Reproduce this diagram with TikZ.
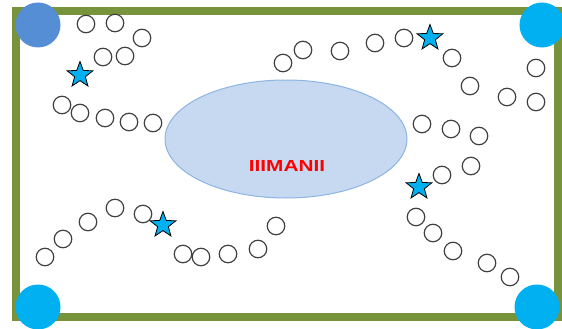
\documentclass[tikz,border=0pt]{standalone}
\usepackage{fontspec}
\setmainfont{Liberation Sans}
\usetikzlibrary{shapes.geometric}
\definecolor{frame}{HTML}{77933C}
\definecolor{cornerA}{HTML}{558ED5}
\definecolor{cornerB}{HTML}{00B0F0}
\definecolor{ellfill}{HTML}{C6D9F1}
\definecolor{elledge}{HTML}{8DB4E2}
\definecolor{ring}{HTML}{404040}
\tikzset{
  ringnode/.style={circle,draw=ring,line width=1.2pt,minimum size=17.5pt,inner sep=0pt,fill=white},
  starnode/.style={star,star points=5,star point ratio=2.4,draw=black,line width=0.8pt,fill=cornerB,minimum size=27pt,inner sep=0pt},
  cornernode/.style={circle,minimum size=45pt,inner sep=0pt},
  lbl/.style={text=red,font=\bfseries\fontsize{16}{16}\selectfont}
}
\begin{document}
\begin{tikzpicture}[x=1pt,y=-1pt]
\useasboundingbox (0,0) rectangle (562,329);
\draw[frame,line width=8pt] (16,11) rectangle (558,317);
\node[cornernode,fill=cornerA] (c1) at (38,25) {};
\node[cornernode,fill=cornerB] (c2) at (542,25) {};
\node[cornernode,fill=cornerB] (c3) at (38,307) {};
\node[cornernode,fill=cornerB] (c4) at (537,307) {};
\node[ellipse,fill=ellfill,draw=elledge,line width=1pt,minimum width=242pt,minimum height=118pt] (ell) at (286,139) {};
\node[lbl,xscale=1.3] (t) at (287,166) {IIIMANII};
% top-left group
\node[ringnode] (a1) at (86,24) {};
\node[ringnode] (a2) at (115,23) {};
\node[ringnode] (a3) at (142,38) {};
\node[ringnode] (a4) at (103,57) {};
\node[ringnode] (a5) at (125,56) {};
\node[starnode] (s1) at (80,75) {};
\node[ringnode] (a6) at (62,105) {};
\node[ringnode] (a7) at (80,113) {};
\node[ringnode] (a8) at (105,118) {};
\node[ringnode] (a9) at (129,122) {};
\node[ringnode] (a10) at (153,123) {};
% top-right group
\node[ringnode] (b1) at (283,63) {};
\node[ringnode] (b2) at (303,50) {};
\node[ringnode] (b3) at (340,51) {};
\node[ringnode] (b4) at (375,43) {};
\node[ringnode] (b5) at (404,38) {};
\node[starnode] (s2) at (430,38) {};
\node[ringnode] (b6) at (452,58) {};
\node[ringnode] (b7) at (470,86) {};
\node[ringnode] (b8) at (507,97) {};
\node[ringnode] (b9) at (536,68) {};
\node[ringnode] (b10) at (536,102) {};
% right middle group
\node[ringnode] (d1) at (422,124) {};
\node[ringnode] (d2) at (451,129) {};
\node[ringnode] (d3) at (479,136) {};
\node[ringnode] (d4) at (471,166) {};
\node[ringnode] (d5) at (442,175) {};
\node[starnode] (s3) at (419,187) {};
\node[ringnode] (d6) at (416,217) {};
\node[ringnode] (d7) at (433,233) {};
\node[ringnode] (d8) at (453,251) {};
\node[ringnode] (d9) at (487,263) {};
\node[ringnode] (d10) at (510,277) {};
% bottom-left group
\node[ringnode] (e1) at (45,257) {};
\node[ringnode] (e2) at (63,239) {};
\node[ringnode] (e3) at (88,222) {};
\node[ringnode] (e4) at (115,208) {};
\node[ringnode] (e5) at (143,214) {};
\node[starnode] (s4) at (163,225) {};
\node[ringnode] (e6) at (183,254) {};
\node[ringnode] (e7) at (201,257) {};
\node[ringnode] (e8) at (228,254) {};
\node[ringnode] (e9) at (258,249) {};
\node[ringnode] (e10) at (276,226) {};
\end{tikzpicture}
\end{document}
